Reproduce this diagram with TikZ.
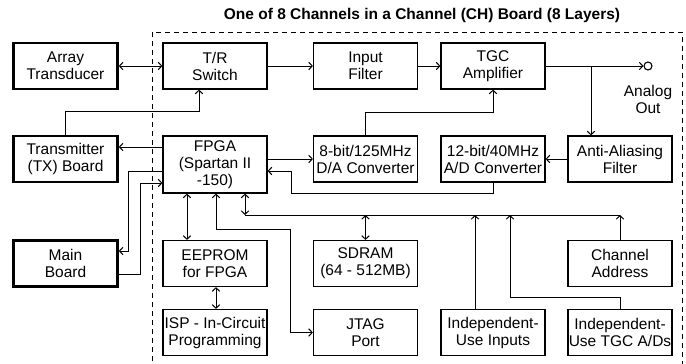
\documentclass[tikz,border=0pt]{standalone}
\usepackage{fontspec}
\setmainfont{Liberation Sans}
\usetikzlibrary{arrows, arrows.meta, shapes, positioning}

\tikzset{
	blk/.style={draw, line width=1.2pt, minimum width=104pt, minimum height=46pt, inner sep=0pt, align=center, font=\fontsize{15.5}{17}\selectfont},
	extblk/.style={blk, line width=2.6pt},
	wire/.style={line width=1pt, >={Straight Barb[length=3.5pt,width=7.5pt]}}
}

\begin{document}
\begin{tikzpicture}[x=1pt, y=-1pt]
\useasboundingbox (0,0) rectangle (686,364);

\node[font=\fontsize{15.5}{17}\selectfont\bfseries] (title) at (422,15) {One of 8 Channels in a Channel (CH) Board (8 Layers)};
\draw[dashed, line width=0.9pt, dash pattern=on 5pt off 4pt] (152,370) -- (152,32) -- (682,32) -- (682,370);

% outside the board
\node[extblk] (array) at (65.5,66) {Array\\Transducer};
\node[extblk] (tx) at (65.5,159) {Transmitter\\(TX) Board};
\node[extblk] (mainb) at (65.5,263.5) {Main\\Board};

% signal path
\node[blk] (trsw) at (215,66) {T/R\\Switch};
\node[blk] (infilt) at (365.5,66) {Input\\Filter};
\node[blk] (tgc) at (493,66) {TGC\\Amplifier};
\node[draw, circle, line width=1.1pt, minimum size=8pt, inner sep=0pt] (aout) at (648,66) {};
\node[font=\fontsize{15.5}{17}\selectfont, align=center] (aoutlbl) at (648,99) {Analog\\Out};

\node[blk, minimum height=57pt] (fpga) at (215,164.5) {FPGA\\(Spartan II\\-150)};
\node[blk] (dac) at (365.5,159) {8-bit/125MHz\\D/A Converter};
\node[blk] (adc) at (493,159) {12-bit/40MHz\\A/D Converter};
\node[blk] (aaf) at (620,159) {Anti-Aliasing\\Filter};

\node[blk] (eeprom) at (215,263.5) {EEPROM\\for FPGA};
\node[blk] (sdram) at (365.5,263.5) {SDRAM\\(64 - 512MB)};
\node[blk] (addr) at (620,263.5) {Channel\\Address};

\node[blk] (isp) at (215,332.5) {ISP - In-Circuit\\Programming};
\node[blk] (jtag) at (365.5,332.5) {JTAG\\Port};
\node[blk] (indin) at (493,332.5) {Independent-\\Use Inputs};
\node[blk] (indtgc) at (620,332.5) {Independent-\\Use TGC A/Ds};

\coordinate (tap) at (591,66);
\coordinate (adcret) at (291,193);
\coordinate (busl) at (245,215);
\coordinate (tgcbus) at (510,215);

\begin{scope}[wire]
\draw[<->] (array) -- (trsw);
\draw[->] (trsw) -- (infilt);
\draw[->] (infilt) -- (tgc);
\draw[->] (tgc) -- (aout);
\draw[->] (tap) -- (tap |- aaf.north);
\draw[->] (aaf) -- (adc);
\draw[->] (adc.south) |- (adcret) -- ++(0,-22) -- ([yshift=-6.5]fpga.east);
\draw[->] (fpga.east |- dac) -- (dac);
\draw[->] (dac.north) -- ++(0,-23) -| (tgc.south);
\draw[->] (tx.north) -- ++(0,-23) -| ([xshift=-16]trsw.south);

\draw[->] ([yshift=17.5]fpga.west) -- ([yshift=12]tx.east);
\draw[->] ([yshift=-6.5]fpga.west) -| ([xshift=10,yshift=12.5]mainb.east) -- ([yshift=12.5]mainb.east);
\draw[->] ([yshift=-10.5]mainb.east) -- ++(22,0) |- ([yshift=-18.5]fpga.west);

\draw[<->] ([xshift=-28]fpga.south) -- ([xshift=-28]eeprom.north);
\draw[<->] ([xshift=1]fpga.south) -- ++(0,36) -| ([xshift=-22]jtag.west) -- (jtag.west);
\draw[<->] ([xshift=30]fpga.south) -- (busl);
\draw (busl) -- (busl -| addr.north);
\draw[<->] (sdram.north) -- (sdram.north |- busl);
\draw[->] ([xshift=-18]indin.north) -- ([xshift=-18]indin.north |- busl);
\draw[->] (indtgc.north) -- ++(0,-11) -| (tgcbus);
\draw[->] (addr.north) -- (addr.north |- busl);
\draw[<->] ([xshift=1]eeprom.south) -- ([xshift=1]isp.north);
\end{scope}

\end{tikzpicture}
\end{document}
